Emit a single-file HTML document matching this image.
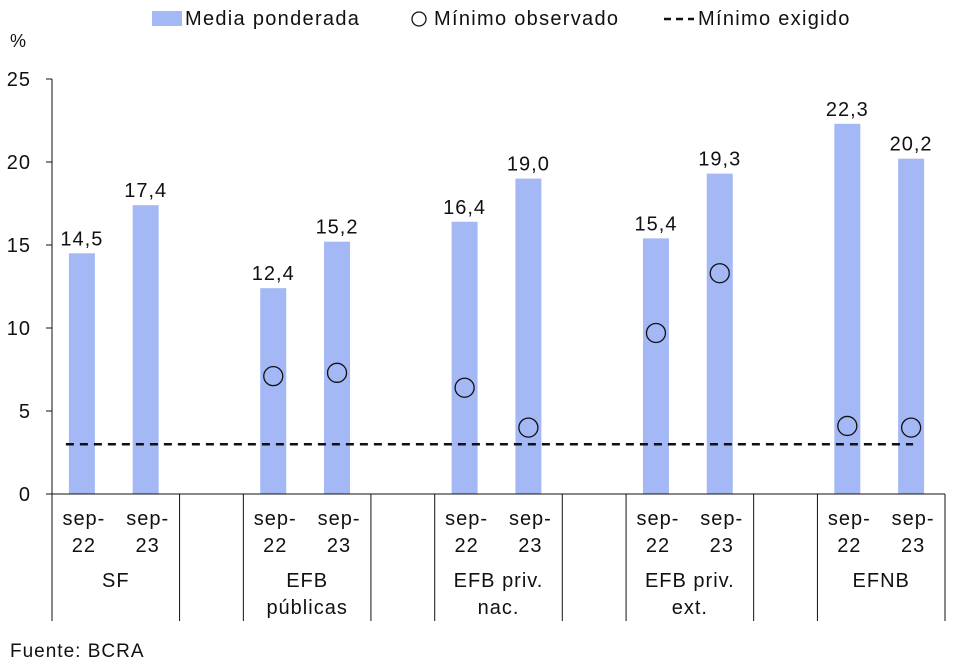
<!DOCTYPE html>
<html><head><meta charset="utf-8">
<style>
body{margin:0;background:#fff;}
svg text{font-family:"Liberation Sans",Arial,sans-serif;fill:#111;letter-spacing:1px;}
</style></head>
<body>
<svg id="chart" width="960" height="666" viewBox="0 0 960 666" xmlns="http://www.w3.org/2000/svg">
<g id="legend">
  <rect x="152" y="11" width="30" height="15" fill="#a4b8f5"/>
  <text x="185" y="25" font-size="20" style="letter-spacing:1.3px">Media ponderada</text>
  <circle cx="419" cy="19" r="7" fill="none" stroke="#111" stroke-width="1.3"/>
  <text x="434" y="25" font-size="20" style="letter-spacing:1.3px">Mínimo observado</text>
  <line x1="664" y1="19" x2="694" y2="19" stroke="#111" stroke-width="2.5" stroke-dasharray="7,5"/>
  <text x="698" y="25" font-size="20" style="letter-spacing:1.3px">Mínimo exigido</text>
</g>
<text x="10" y="47" font-size="18">%</text>
<text x="10" y="657" font-size="19">Fuente: BCRA</text>
<g id="plot"></g>
</svg>
<script>
const groups = ["SF","EFB|públicas","EFB priv.|nac.","EFB priv.|ext.","EFNB"];
const periods = ["sep-22","sep-23"];
const media = [14.5,17.4,12.4,15.2,16.4,19.0,15.4,19.3,22.3,20.2];
const minObs = [null,null,7.1,7.3,6.4,4.0,9.7,13.3,4.1,4.0];
const minExig = 3.0;
const yTicks = [0,5,10,15,20,25];

const NS="http://www.w3.org/2000/svg";
const plot=document.getElementById('plot');
const x0=52, x1=945, yBase=494, yTop=79, yMax=25;
const slot=(x1-x0)/14;
function y(v){return yBase-(v/yMax)*(yBase-yTop);}
function xc(i){const g=Math.floor(i/2), k=i%2; return x0+(g*3+k+0.5)*slot-2;}
function mk(tag,attrs,txt){const e=document.createElementNS(NS,tag);for(const a in attrs)e.setAttribute(a,attrs[a]);if(txt!==undefined)e.textContent=txt;plot.appendChild(e);return e;}
function fmt(v){return v.toFixed(1).replace('.',',');}

let e=mk('line',{x1:x0,y1:yTop,x2:x0,y2:yBase,stroke:'#111','stroke-width':1});


yTicks.forEach(t=>{
  let l=mk('line',{x1:x0-6,y1:y(t),x2:x0,y2:y(t),stroke:'#111'});
  
  
  let tx=mk('text',{x:31,y:y(t)+7,'font-size':20,'text-anchor':'end'},String(t));
  
  
});
media.forEach((v,i)=>{
  let r=mk('rect',{x:xc(i)-13,y:y(v),width:26,height:yBase-y(v),fill:'#a4b8f5'});
  
  
  let t=mk('text',{x:xc(i),y:y(v)-8,'font-size':20,'text-anchor':'middle'},fmt(v));
  
  
});
e=mk('line',{x1:x0,y1:yBase,x2:x1,y2:yBase,stroke:'#111'});


e=mk('line',{x1:xc(0)-16,y1:y(minExig),x2:xc(9)+2,y2:y(minExig),stroke:'#111','stroke-width':2.5,'stroke-dasharray':'8,6'});


minObs.forEach((v,i)=>{
  if(v===null)return;
  let c=mk('circle',{cx:xc(i),cy:y(v),r:9.5,fill:'none',stroke:'#111','stroke-width':1.3});
  
  
});
groups.forEach((g,gi)=>{
  const gs=x0+gi*3*slot, ge=gs+2*slot;
  [gs,ge].forEach(xx=>{
    let l=mk('line',{x1:xx,y1:yBase,x2:xx,y2:621,stroke:'#111'});
    
    
  });
  periods.forEach((p,k)=>{
    const cx=xc(gi*2+k)+2;
    const parts=p.split('-');
    let a=mk('text',{x:cx,y:525,'font-size':20,'text-anchor':'middle'},parts[0]+'-');
    
    
    let b=mk('text',{x:cx,y:552,'font-size':20,'text-anchor':'middle'},parts[1]);
    
    
  });
  g.split('|').forEach((s,li)=>{
    let t=mk('text',{x:(gs+ge)/2,y:587+li*27,'font-size':20,'text-anchor':'middle'},s);
    
    
  });
});
</script>
</body></html>
